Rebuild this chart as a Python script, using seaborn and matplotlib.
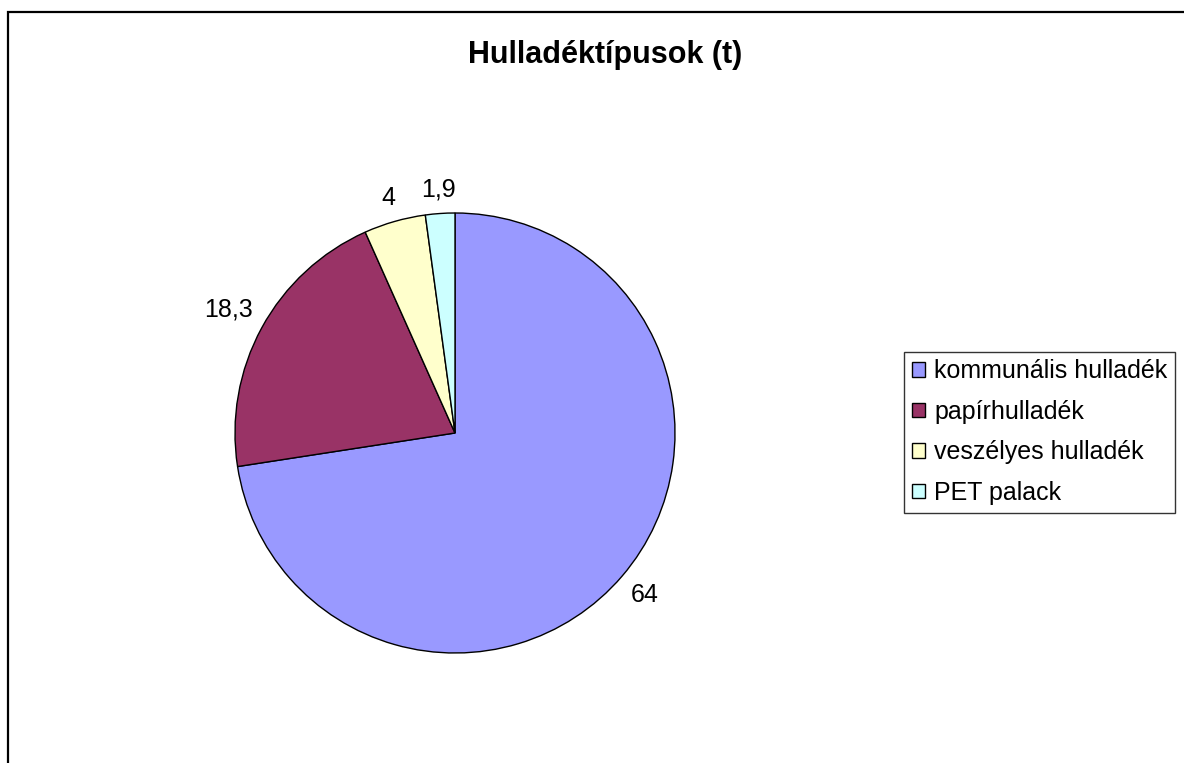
import numpy as np
import matplotlib
matplotlib.use("Agg")
import matplotlib.pyplot as plt
import seaborn as sns
from matplotlib.patches import Rectangle, Patch

categories = ["kommunális hulladék", "papírhulladék", "veszélyes hulladék", "PET palack"]
values = [64, 18.3, 4, 1.9]
value_labels = ["64", "18,3", "4", "1,9"]
colors = ["#9999FF", "#993366", "#FFFFCC", "#CCFFFF"]

sns.set_theme(style="white")
plt.rcParams["font.family"] = ["Liberation Sans", "DejaVu Sans"]
plt.rcParams["text.color"] = "black"

W, H = 1184, 763
fig = plt.figure(figsize=(W / 100, H / 100), dpi=100)

# outer chart frame (cut by the image edges on right and bottom)
fig.patches.append(Rectangle((8 / W, -0.05), 1.2, 1 - 12 / H + 0.05,
                             transform=fig.transFigure, fill=False,
                             edgecolor="black", linewidth=1.6, zorder=0))

# pie axes: centre (455, 433) px, radius 220 px
cx, cy, r = 455, 433, 220
half = 1.25 * r
ax = fig.add_axes([(cx - half) / W, (H - cy - half) / H, 2 * half / W, 2 * half / H])
wedges, _ = ax.pie(values, colors=colors, startangle=90, counterclock=False,
                   wedgeprops=dict(edgecolor="black", linewidth=1.0))
ax.set_xlim(-1.25, 1.25)
ax.set_ylim(-1.25, 1.25)

# value labels outside the slices
texts = []
for w, lab in zip(wedges, value_labels):
    ang = np.deg2rad((w.theta1 + w.theta2) / 2)
    t = ax.text(np.cos(ang), np.sin(ang), lab, ha="center", va="center",
                fontsize=18, color="black")
    texts.append((t, ang))
fig.canvas.draw()
renderer = fig.canvas.get_renderer()
gap = 11
for t, ang in texts:
    bb = t.get_window_extent(renderer)
    ux, uy = np.cos(ang), np.sin(ang)
    extra = bb.width / 2 * abs(ux) + bb.height / 2 * abs(uy)
    d = (r + gap + extra) / r
    t.set_position((d * ux, d * uy))

fig.text(605 / W, 1 - 55 / H, "Hulladéktípusok (t)", ha="center", va="center",
         fontsize=22, fontweight="bold", color="black")

handles = [Patch(facecolor=c, edgecolor="black", linewidth=1.0) for c in colors]
leg = fig.legend(handles, categories, loc="upper left",
                 bbox_to_anchor=(904 / W, 1 - 352 / H), fontsize=18,
                 frameon=True, fancybox=False, edgecolor="black",
                 handlelength=0.52, handleheight=0.52, handletextpad=0.4,
                 labelspacing=0.66, borderpad=0.3, borderaxespad=0)
leg.get_frame().set_linewidth(1.0)
for txt in leg.get_texts():
    txt.set_color("black")

fig.savefig("out.png", dpi=100, facecolor="white")
